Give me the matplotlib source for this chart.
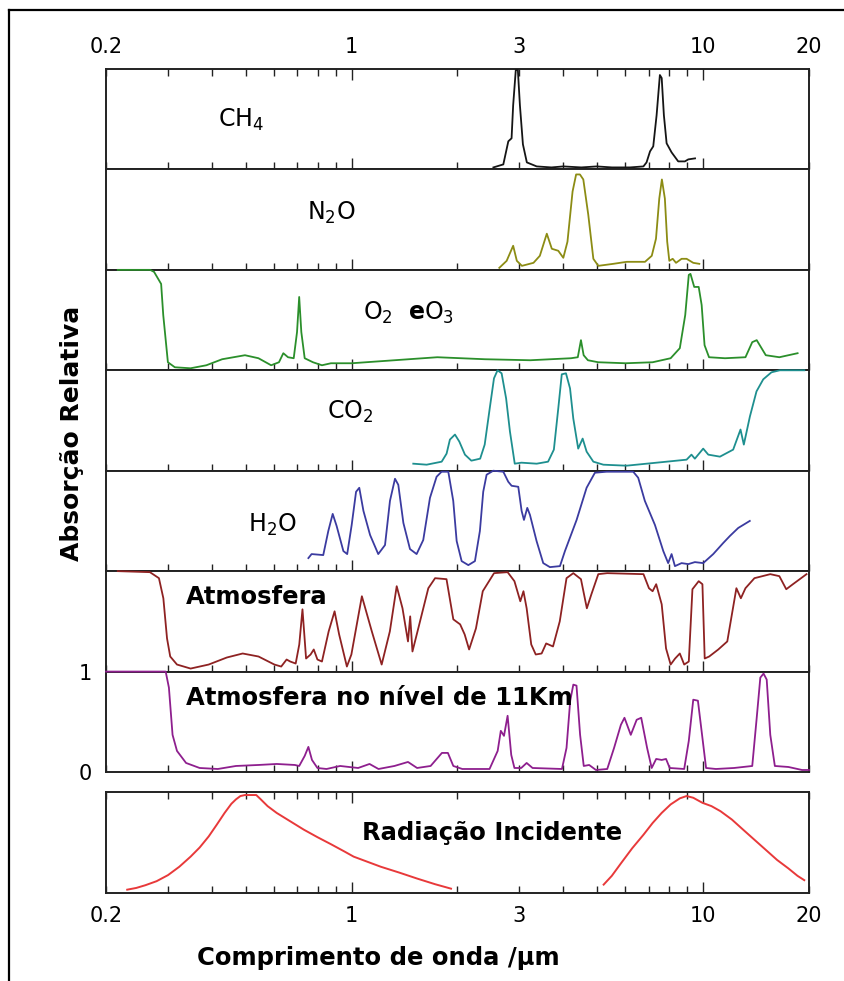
import matplotlib
matplotlib.use("Agg")
import matplotlib.pyplot as plt
from matplotlib.lines import Line2D

# ---- data (wavelength in um, relative absorption 0..1) ----
ch4_wl = [2.53, 2.70, 2.79, 2.85, 2.88, 2.93, 2.97, 3.01, 3.07, 3.15, 3.36, 3.7, 4.0, 4.5,
          4.98, 5.5, 6.19, 6.76, 6.90, 7.06, 7.21, 7.37, 7.53, 7.62, 7.73, 7.87, 8.13, 8.49,
          8.87, 9.07, 9.48]
ch4_ab = [0.02, 0.05, 0.28, 0.31, 0.64, 0.99, 0.99, 0.64, 0.25, 0.07, 0.03, 0.02, 0.03, 0.02,
          0.03, 0.02, 0.02, 0.03, 0.07, 0.18, 0.23, 0.54, 0.94, 0.91, 0.54, 0.26, 0.17, 0.08,
          0.08, 0.10, 0.11]

n2o_wl = [2.63, 2.76, 2.88, 2.95, 3.05, 3.29, 3.43, 3.59, 3.71, 3.87, 4.00, 4.11, 4.25, 4.35,
          4.46, 4.56, 4.71, 4.87, 5.03, 5.55, 6.06, 6.83, 7.14, 7.34, 7.50, 7.63, 7.78, 7.90,
          8.01, 8.19, 8.37, 8.68, 8.97, 9.37, 9.75]
n2o_ab = [0.02, 0.09, 0.24, 0.09, 0.04, 0.07, 0.14, 0.36, 0.21, 0.19, 0.12, 0.28, 0.78, 0.95,
          0.95, 0.90, 0.55, 0.11, 0.04, 0.06, 0.08, 0.08, 0.14, 0.31, 0.71, 0.90, 0.71, 0.28,
          0.09, 0.11, 0.07, 0.11, 0.11, 0.07, 0.06]

o3_wl = [0.216, 0.267, 0.274, 0.287, 0.291, 0.300, 0.314, 0.348, 0.386, 0.428, 0.497, 0.543,
         0.590, 0.621, 0.639, 0.659, 0.684, 0.699, 0.709, 0.719, 0.735, 0.776, 0.823, 0.873,
         1.0, 1.323, 1.753, 2.394, 3.222, 4.206, 4.398, 4.49, 4.57, 4.70, 5.03, 6.01, 7.18,
         8.08, 8.58, 8.89, 9.10, 9.2, 9.43, 9.71, 9.9, 10.09, 10.39, 11.54, 13.19, 13.79, 14.2,
         14.6, 15.07, 16.47, 18.56]
o3_ab = [1.0, 1.0, 0.98, 0.86, 0.55, 0.08, 0.03, 0.02, 0.05, 0.11, 0.15, 0.12,
         0.05, 0.08, 0.17, 0.13, 0.12, 0.38, 0.73, 0.38, 0.12, 0.08, 0.05, 0.07,
         0.07, 0.10, 0.13, 0.11, 0.10, 0.12, 0.13, 0.30, 0.15, 0.10, 0.08, 0.07, 0.08,
         0.12, 0.22, 0.55, 0.95, 0.96, 0.83, 0.83, 0.65, 0.25, 0.13, 0.12, 0.13, 0.28, 0.30,
         0.23, 0.15, 0.13, 0.17]

co2_wl = [1.497, 1.634, 1.803, 1.862, 1.903, 1.967, 2.024, 2.10, 2.19, 2.32, 2.39, 2.47, 2.54,
          2.60, 2.67, 2.75, 2.82, 2.91, 3.04, 3.36, 3.62, 3.76, 3.87, 3.96, 4.07, 4.18, 4.27,
          4.41, 4.54, 4.66, 4.87, 5.20, 6.05, 6.90, 7.87, 8.97, 9.26, 9.47, 10.0, 10.34, 11.16,
          12.17, 12.77, 13.05, 13.58, 14.18, 14.82, 15.64, 16.52, 19.4]
co2_ab = [0.07, 0.06, 0.09, 0.17, 0.31, 0.36, 0.29, 0.16, 0.10, 0.12, 0.26, 0.62, 0.92,
          1.0, 0.97, 0.72, 0.39, 0.07, 0.08, 0.07, 0.09, 0.21, 0.62, 0.96, 0.97, 0.82, 0.52,
          0.22, 0.32, 0.19, 0.09, 0.06, 0.05, 0.07, 0.09, 0.11, 0.16, 0.12, 0.22, 0.16, 0.14,
          0.21, 0.41, 0.26, 0.54, 0.79, 0.91, 0.98, 1.0, 1.0]

h2o_wl = [0.753, 0.769, 0.830, 0.858, 0.883, 0.906, 0.947, 0.971, 1.0, 1.029, 1.051, 1.080,
          1.128, 1.190, 1.244, 1.285, 1.328, 1.357, 1.403, 1.465, 1.530, 1.598, 1.670, 1.744,
          1.802, 1.883, 1.945, 1.989, 2.055, 2.147, 2.242, 2.316, 2.367, 2.420, 2.528, 2.700,
          2.789, 2.851, 2.978, 3.044, 3.091, 3.159, 3.215, 3.357, 3.507, 3.664, 3.913, 4.043,
          4.364, 4.659, 4.920, 5.311, 6.323, 6.533, 6.823, 7.29, 7.70, 7.95, 8.13, 8.31, 8.68,
          9.07, 9.47, 10.0, 10.68, 11.40, 11.91, 12.58, 13.57]
h2o_ab = [0.13, 0.17, 0.16, 0.40, 0.57, 0.45, 0.20, 0.17, 0.46, 0.79, 0.83, 0.60,
          0.36, 0.17, 0.26, 0.70, 0.92, 0.86, 0.48, 0.22, 0.17, 0.31, 0.73, 0.94,
          0.99, 0.99, 0.70, 0.30, 0.10, 0.06, 0.10, 0.40, 0.79, 0.96, 1.0, 0.99,
          0.89, 0.85, 0.84, 0.60, 0.51, 0.63, 0.56, 0.30, 0.08, 0.04, 0.05, 0.20,
          0.51, 0.83, 0.98, 0.99, 0.99, 0.93, 0.70, 0.46, 0.20, 0.08, 0.17, 0.05, 0.08,
          0.07, 0.09, 0.08, 0.17, 0.28, 0.35, 0.43, 0.50]

atm_wl = [0.216, 0.2666, 0.2829, 0.2912, 0.2983, 0.3046, 0.3184, 0.3481, 0.3919, 0.4413, 0.4896,
          0.5432, 0.6027, 0.6302, 0.6529, 0.6686, 0.6929, 0.7094, 0.7244, 0.7417, 0.764, 0.780,
          0.799, 0.823, 0.860, 0.894, 0.921, 0.969, 0.998, 1.069, 1.141, 1.217, 1.284, 1.343,
          1.395, 1.446, 1.467, 1.489, 1.557, 1.652, 1.727, 1.861, 1.946, 2.035, 2.096, 2.158,
          2.257, 2.360, 2.541, 2.777, 2.904, 3.018, 3.081, 3.146, 3.242, 3.339, 3.470, 3.575,
          3.739, 3.908, 4.085, 4.271, 4.490, 4.667, 4.808, 5.03, 5.334, 6.763, 7.01, 7.18, 7.35,
          7.62, 7.84, 8.08, 8.32, 8.58, 8.83, 9.10, 9.32, 9.71, 9.95, 10.10, 10.40, 11.04, 11.71,
          12.07, 12.43, 12.80, 13.19, 13.99, 15.52, 16.47, 17.23, 18.0, 19.68]
atm_ab = [1.0, 0.99, 0.93, 0.73, 0.33, 0.15, 0.07, 0.03, 0.07, 0.14, 0.18,
          0.15, 0.07, 0.05, 0.12, 0.10, 0.08, 0.27, 0.62, 0.13, 0.17, 0.22,
          0.12, 0.10, 0.40, 0.60, 0.37, 0.05, 0.17, 0.75, 0.40, 0.07, 0.40, 0.85,
          0.63, 0.30, 0.55, 0.20, 0.47, 0.83, 0.93, 0.92, 0.52, 0.47, 0.37, 0.22,
          0.43, 0.80, 0.98, 0.99, 0.90, 0.70, 0.80, 0.63, 0.27, 0.17, 0.18, 0.28,
          0.25, 0.50, 0.93, 0.98, 0.92, 0.63, 0.77, 0.97, 0.98, 0.97, 0.83, 0.80, 0.87,
          0.67, 0.23, 0.07, 0.13, 0.18, 0.07, 0.10, 0.82, 0.90, 0.87, 0.13, 0.15, 0.22, 0.30,
          0.57, 0.83, 0.73, 0.83, 0.93, 0.97, 0.95, 0.82, 0.87, 0.97]

km11_wl = [0.2, 0.2957, 0.302, 0.3093, 0.3184, 0.3379, 0.3693, 0.416, 0.4685, 0.5432, 0.612,
           0.689, 0.709, 0.735, 0.753, 0.771, 0.799, 0.848, 0.927, 0.983, 1.043, 1.124, 1.192,
           1.323, 1.446, 1.535, 1.677, 1.806, 1.878, 1.946, 2.064, 2.467, 2.602, 2.656, 2.712,
           2.777, 2.844, 2.904, 3.036, 3.146, 3.27, 3.965, 4.085, 4.185, 4.271, 4.361, 4.465,
           4.573, 4.738, 4.954, 5.334, 5.578, 5.833, 5.971, 6.223, 6.468, 6.663, 6.925, 7.136,
           7.35, 7.62, 7.84, 8.03, 8.83, 9.10, 9.37, 9.66, 9.95, 10.19, 10.87, 12.24, 13.79,
           14.20, 14.54, 14.85, 15.16, 15.52, 15.99, 17.48, 19.11, 20.0]
km11_ab = [1.0, 1.0, 0.84, 0.37, 0.21, 0.09, 0.04, 0.03, 0.06, 0.07, 0.08,
           0.07, 0.06, 0.16, 0.25, 0.12, 0.04, 0.03, 0.06, 0.05, 0.04, 0.08, 0.03,
           0.06, 0.10, 0.04, 0.06, 0.19, 0.19, 0.06, 0.03, 0.03, 0.21, 0.41, 0.36,
           0.56, 0.17, 0.04, 0.04, 0.09, 0.04, 0.03, 0.24, 0.71, 0.87, 0.86, 0.37,
           0.06, 0.07, 0.02, 0.03, 0.24, 0.47, 0.54, 0.37, 0.52, 0.54, 0.24, 0.04,
           0.13, 0.12, 0.13, 0.04, 0.03, 0.31, 0.72, 0.71, 0.34, 0.04, 0.03, 0.04, 0.06,
           0.54, 0.94, 0.98, 0.92, 0.37, 0.06, 0.05, 0.02, 0.02]

sun_wl = [0.2298, 0.2438, 0.2588, 0.2786, 0.3002, 0.3233, 0.3481, 0.3693, 0.3919, 0.4133,
          0.435, 0.4546, 0.4685, 0.4825, 0.4971, 0.5352, 0.5513, 0.5765, 0.6117, 0.6686,
          0.7309, 0.7988, 0.8731, 0.9546, 1.013, 1.107, 1.210, 1.363, 1.535, 1.727, 1.917]
sun_ab = [0.033, 0.05, 0.077, 0.117, 0.177, 0.26, 0.36, 0.45, 0.56, 0.677,
          0.793, 0.883, 0.927, 0.96, 0.97, 0.97, 0.927, 0.86, 0.793, 0.71,
          0.627, 0.553, 0.483, 0.41, 0.36, 0.31, 0.26, 0.203, 0.143, 0.087, 0.043]
earth_wl = [5.21, 5.496, 5.833, 6.281, 6.763, 7.18, 7.62, 8.08, 8.58, 8.97, 9.37, 9.95, 10.56,
            11.20, 12.07, 12.99, 13.99, 15.07, 16.23, 17.48, 18.55, 19.39]
earth_ab = [0.083, 0.17, 0.293, 0.443, 0.577, 0.693, 0.793, 0.877, 0.937, 0.96, 0.943, 0.893,
            0.86, 0.81, 0.727, 0.627, 0.527, 0.427, 0.327, 0.243, 0.17, 0.127]

tick_vals = [0.2, 1, 3, 10, 20]
tick_text = ["0.2", "1", "3", "10", "20"]
minor_vals = [0.3, 0.4, 0.5, 0.6, 0.7, 0.8, 0.9, 2, 4, 5, 6, 7, 8, 9]

panels = [
    (ch4_wl, ch4_ab, "#151515"),
    (n2o_wl, n2o_ab, "#8c8c14"),
    (o3_wl, o3_ab, "#2b8f2b"),
    (co2_wl, co2_ab, "#1e8f8f"),
    (h2o_wl, h2o_ab, "#3b3ba0"),
    (atm_wl, atm_ab, "#8e2222"),
    (km11_wl, km11_ab, "#8e1f8e"),
]

W, H = 845, 981


def fx(x):
    return x / W


def fy(y):
    return 1 - y / H


def style_axis(ax, top_ticks, show_top_labels=False, show_bottom_labels=False):
    ax.set_xscale("log")
    ax.set_xlim(0.2, 20)
    ax.set_ylim(0, 1)
    ax.set_xticks(tick_vals)
    ax.set_xticks(minor_vals, minor=True)
    ax.set_xticklabels(tick_text)
    ax.set_yticks([])
    for s in ax.spines.values():
        s.set_linewidth(1.4)
        s.set_color("#222222")
    ax.tick_params(axis="x", which="both", direction="in", width=1.0, color="#222222",
                   bottom=True, top=top_ticks,
                   labelbottom=show_bottom_labels, labeltop=show_top_labels,
                   labelsize=15, pad=9)
    ax.tick_params(axis="x", which="major", length=5)
    ax.tick_params(axis="x", which="minor", length=5)
    for t in ax.xaxis.get_major_ticks():
        if t.get_loc() in (1, 10):
            t.tick1line.set_markersize(8)
            t.tick2line.set_markersize(8)


fig = plt.figure(figsize=(W / 100, H / 100), dpi=100)

top, bot = 69, 772
step = (bot - top) / 7
axes = []
for i, (wl, ab, col) in enumerate(panels):
    y0 = top + i * step
    ax = fig.add_axes([fx(106), fy(y0 + step), fx(703), step / H])
    ax.plot(wl, ab, color=col, lw=1.3, solid_joinstyle="round", zorder=3, clip_on=False)
    style_axis(ax, top_ticks=(i == 0), show_top_labels=(i == 0))
    axes.append(ax)

# 0 / 1 scale on the 11 km panel
ax11 = axes[6]
ax11.set_yticks([0, 1])
ax11.set_yticklabels(["0", "1"])
ax11.tick_params(axis="y", length=0, labelsize=15, pad=10)

# incident radiation panel
axr = fig.add_axes([fx(106), fy(893), fx(703), 101 / H])
axr.plot(sun_wl, sun_ab, color="#e8393a", lw=1.4, solid_joinstyle="round")
axr.plot(earth_wl, earth_ab, color="#e8393a", lw=1.4, solid_joinstyle="round")
style_axis(axr, top_ticks=True, show_bottom_labels=True)

# labels
fs = 17
bfs = 17.5
fig.text(fx(241), fy(120), r"CH$_4$", fontsize=fs, ha="center", va="center")
fig.text(fx(331), fy(213), r"N$_2$O", fontsize=fs, ha="center", va="center")
fig.text(fx(409), fy(313), r"O$_2$  $\mathbf{e}$O$_3$", fontsize=fs, ha="center", va="center")
fig.text(fx(350), fy(412), r"CO$_2$", fontsize=fs, ha="center", va="center")
fig.text(fx(272), fy(525), r"H$_2$O", fontsize=fs, ha="center", va="center")
fig.text(fx(186), fy(597), "Atmosfera", fontsize=bfs, fontweight="bold", ha="left", va="center")
fig.text(fx(186), fy(698), "Atmosfera no nível de 11Km", fontsize=bfs, fontweight="bold",
         ha="left", va="center")
fig.text(fx(492), fy(833), "Radiação Incidente", fontsize=bfs, fontweight="bold",
         ha="center", va="center")
fig.text(fx(378), fy(958), "Comprimento de onda /µm", fontsize=bfs, fontweight="bold",
         ha="center", va="center")
fig.text(fx(72), fy(433), "Absorção Relativa", fontsize=18, fontweight="bold",
         rotation=90, ha="center", va="center")

# outer frame (left and top edges visible)
fig.add_artist(Line2D([fx(9.5), fx(9.5)], [0, fy(9.5)], color="black", lw=1.6))
fig.add_artist(Line2D([fx(9.5), 1], [fy(9.5), fy(9.5)], color="black", lw=1.6))

fig.savefig("out.png", dpi=100)
